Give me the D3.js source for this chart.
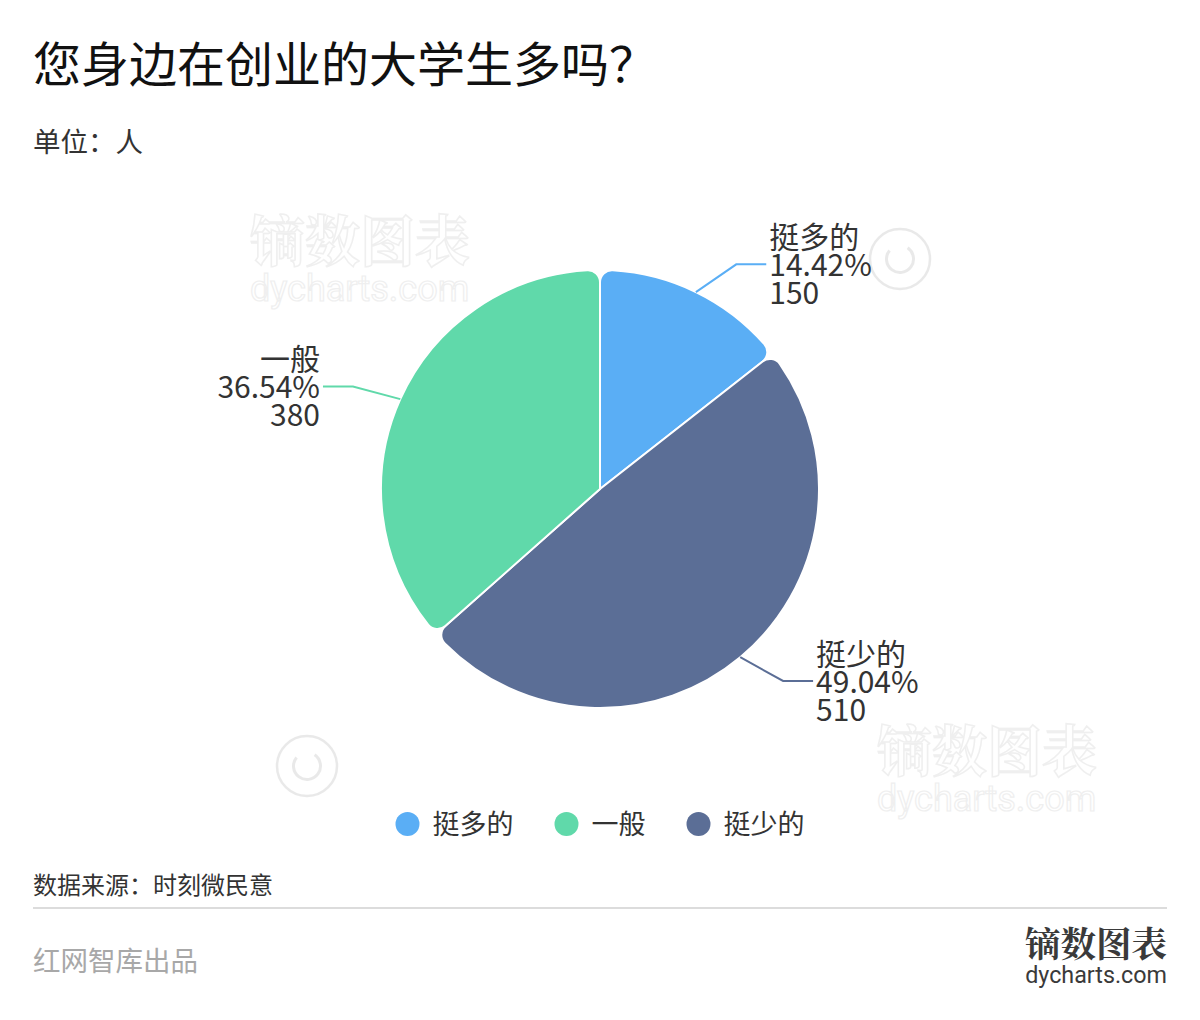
<!DOCTYPE html>
<html><head><meta charset="utf-8">
<script src="https://cdn.jsdelivr.net/npm/d3@7"></script>
<style>
html,body{margin:0;padding:0;background:#fff;}
svg{display:block;font-family:"Noto Sans CJK SC","Noto Sans",sans-serif;}
</style></head>
<body>
<svg id="c" width="1200" height="1020"></svg>
<script>
// data
const sliceNames = ["挺多的", "挺少的", "一般"];
const sliceValues = [150, 510, 380];
const slicePercents = ["14.42%", "49.04%", "36.54%"];
const legendNames = ["挺多的", "一般", "挺少的"];
const colorMap = {"挺多的": "#5aaef5", "一般": "#60d9aa", "挺少的": "#5b6e96"};
const titleText = "您身边在创业的大学生多吗？";
const unitText = "单位：人";
const sourceText = "数据来源：时刻微民意";
const producerText = "红网智库出品";

const svg = d3.select("#c");
const W = 1200, cx = 600, cy = 489, R = 219;

// faint watermarks
function watermark(x, y) {
  const g = svg.append("g").attr("opacity", 0.5);
  g.append("text").attr("x", x).attr("y", y).attr("font-size", 55).attr("font-weight", 700)
    .attr("font-family", "'Noto Serif CJK SC','Noto Sans CJK SC',serif")
    .attr("fill", "none").attr("stroke", "#e0e0e0").attr("stroke-width", 1.5).text("镝数图表");
  g.append("text").attr("x", x).attr("y", y + 40).attr("font-size", 36)
    .attr("fill", "none").attr("stroke", "#e0e0e0").attr("stroke-width", 1.2).attr("font-family", "Roboto, sans-serif").text("dycharts.com");
}
watermark(250, 261);
watermark(877, 771);
function copyMark(x, y) {
  const g = svg.append("g").attr("opacity", 0.6);
  g.append("circle").attr("cx", x).attr("cy", y).attr("r", 30).attr("fill", "none").attr("stroke", "#dcdcdc").attr("stroke-width", 2.5);
  g.append("path").attr("d", d3.arc()({innerRadius: 12, outerRadius: 15, startAngle: 0.6, endAngle: 5.4})).attr("transform", `translate(${x},${y})`).attr("fill", "#dcdcdc");
}
copyMark(900, 259);
copyMark(307, 766);

// title
svg.append("text").attr("x", 33).attr("y", 82).attr("font-size", 48).attr("font-weight", 400)
  .attr("fill", "#111").text(titleText);
svg.append("text").attr("x", 33).attr("y", 152).attr("font-size", 27.5).attr("fill", "#333").text(unitText);

// pie
const data = sliceNames.map((n, i) => ({name: n, value: sliceValues[i], pct: slicePercents[i]}));
const pie = d3.pie().value(d => d.value).sort(null);
const arcs = pie(data);
const arc = d3.arc().innerRadius(0).outerRadius(R).cornerRadius(12);
const pg = svg.append("g").attr("transform", `translate(${cx},${cy})`);
pg.selectAll("path.slice").data(arcs).join("path")
  .attr("class", "slice").attr("d", arc)
  .attr("fill", d => colorMap[d.data.name])
  .attr("stroke", "#fff").attr("stroke-width", 2).attr("stroke-linejoin", "round");

// labels
const L1 = 49, L2 = 30;
arcs.forEach(d => {
  const a = (d.startAngle + d.endAngle) / 2;
  const sx = Math.sin(a), sy = -Math.cos(a);
  const right = sx >= 0;
  const p0 = [cx + R * sx, cy + R * sy];
  const dy = L1 * sy * 0.63;
  const dx = (right ? 1 : -1) * Math.sqrt(L1 * L1 - dy * dy);
  const p1 = [p0[0] + dx, p0[1] + dy];
  const p2 = [p1[0] + (right ? L2 : -L2), p1[1]];
  svg.append("path").attr("d", d3.line()([p0, p1, p2]))
    .attr("fill", "none").attr("stroke", colorMap[d.data.name]).attr("stroke-width", 2);
  const tx = p2[0] + (right ? 3 : -3);
  const lines = [d.data.name, d.data.pct, String(d.data.value)];
  const t = svg.append("text").attr("x", tx).attr("text-anchor", right ? "start" : "end")
    .attr("font-size", 30).attr("fill", "#333");
  lines.forEach((s, i) => {
    t.append("tspan").attr("x", tx).attr("y", p2[1] + (i - 1) * 28 + 12).text(s);
  });
});

// legend
const lg = svg.append("g");
let x = 0;
legendNames.forEach((n, i) => {
  const g = lg.append("g");
  g.append("circle").attr("cx", x + 12).attr("cy", 0).attr("r", 12).attr("fill", colorMap[n]);
  const t = g.append("text").attr("x", x + 37).attr("y", 10).attr("font-size", 27).attr("fill", "#333").text(n);
  const w = t.node().getComputedTextLength();
  x += 37 + w + 41;
});
const totalW = x - 41;
lg.attr("transform", `translate(${cx - totalW / 2},824)`);

// footer
svg.append("text").attr("x", 33).attr("y", 894).attr("font-size", 24).attr("fill", "#333").text(sourceText);
svg.append("line").attr("x1", 33).attr("x2", 1167).attr("y1", 908).attr("y2", 908).attr("stroke", "#dcdcdc").attr("stroke-width", 2);
svg.append("text").attr("x", 33).attr("y", 971).attr("font-size", 27.5).attr("fill", "#a8a8a8").text(producerText);
svg.append("text").attr("x", 1167).attr("y", 957).attr("text-anchor", "end").attr("font-size", 35.5).attr("font-weight", 700)
  .attr("font-family", "'Noto Serif CJK SC','Noto Sans CJK SC',serif").attr("fill", "#3a3a3a").text("镝数图表");
svg.append("text").attr("x", 1167).attr("y", 983).attr("text-anchor", "end").attr("font-size", 23.3)
  .attr("font-family", "Roboto, 'Liberation Sans', sans-serif").attr("fill", "#3a3a3a").text("dycharts.com");
</script>
</body></html>
